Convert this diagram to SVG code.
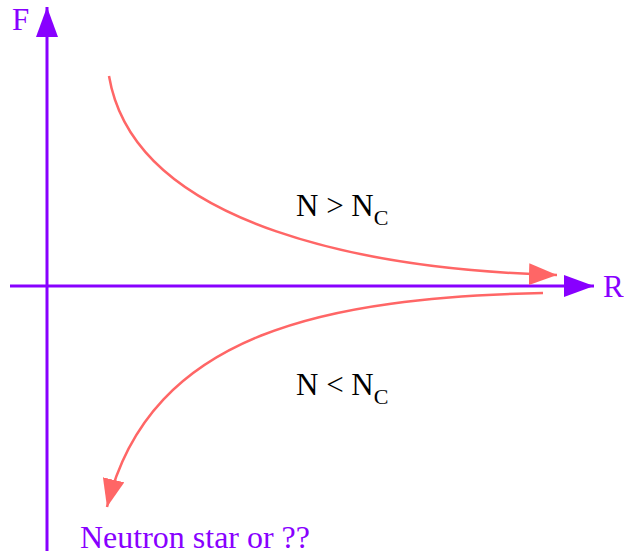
<svg xmlns="http://www.w3.org/2000/svg" width="624" height="554" viewBox="0 0 624 554">
<style>
.axis{stroke:#8800ff;stroke-width:3;fill:none}
.curve{stroke:#ff6666;stroke-width:2.5;fill:none}
.lbl{font-family:"Liberation Serif",serif;font-size:31px;fill:#8800ff}
.eq{font-family:"Liberation Serif",serif;font-size:31px;fill:#000}
.sub{font-size:22px}
</style>
<defs>
<marker id="ap" markerUnits="userSpaceOnUse" markerWidth="32" markerHeight="22" refX="30" refY="11" orient="auto"><path d="M0,0 L30,11 L0,22 Z" fill="#8800ff"/></marker>
<marker id="ar" markerUnits="userSpaceOnUse" markerWidth="30" markerHeight="22" refX="28" refY="11" orient="auto"><path d="M0,0 L28,11 L0,22 Z" fill="#ff6666"/></marker>
</defs>
<g id="connectors">
<line class="axis" x1="47" y1="551" x2="47" y2="7" marker-end="url(#ap)"/>
<line class="axis" x1="10" y1="286" x2="594" y2="286" marker-end="url(#ap)"/>
<path id="upper" class="curve" d="M109,76 C135,230 380,270 557,275" marker-end="url(#ar)"/>
<path id="lower" class="curve" d="M543,293 C330,298 150,330 107,507" marker-end="url(#ar)"/>
</g>
<g id="F"><text class="lbl" x="12" y="30">F</text></g>
<g id="R"><text class="lbl" x="603" y="297">R</text></g>
<g id="Ngt"><text class="eq" x="296" y="216">N &gt; N<tspan class="sub" dy="9">C</tspan></text></g>
<g id="Nlt"><text class="eq" x="296" y="395">N &lt; N<tspan class="sub" dy="9">C</tspan></text></g>
<g id="NS"><text class="lbl" x="80" y="548" textLength="230" lengthAdjust="spacingAndGlyphs">Neutron star or ??</text></g>
</svg>
